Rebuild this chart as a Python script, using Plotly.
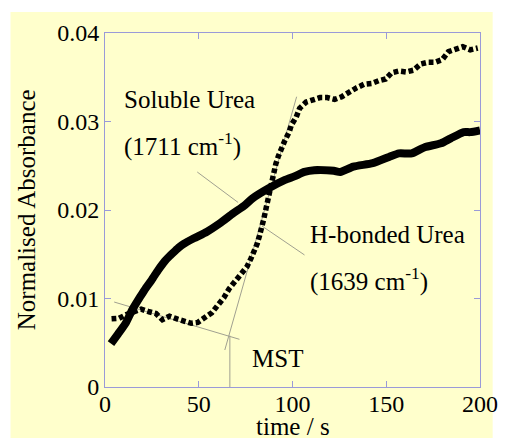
import plotly.graph_objects as go

# H-bonded urea (1639 cm-1), solid thick line
time_hb = [3.2, 7, 11, 14.5, 18.8, 21.8, 24.9, 28.3, 31.8, 34.5, 37, 39.6, 42.2, 47.4,
           54.4, 61.3, 68.2, 74.3, 78.6, 87.3, 96, 101, 106.4, 111.6, 122, 125.5, 132.4,
           142.8, 151.5, 156.7, 163.6, 170.5, 179.2, 184.4, 191.3, 194.8, 200]
abs_hb = [0.0049, 0.0060, 0.0072, 0.0087, 0.0102, 0.0112, 0.0121, 0.0132, 0.0142, 0.0148,
          0.0153, 0.0158, 0.0162, 0.0168, 0.01755, 0.0185, 0.0196, 0.0205, 0.0213, 0.02245,
          0.0234, 0.0238, 0.0243, 0.0245, 0.02444, 0.0243, 0.0249, 0.0253, 0.0260, 0.0264,
          0.0264, 0.0271, 0.02754, 0.0281, 0.0288, 0.0288, 0.0290]

# Soluble urea (1711 cm-1), dotted line
time_sol = [3.5, 7.5, 11.5, 15.3, 19.3, 23.5, 27.2, 30.6, 34.4, 38.4, 42.2, 46.0, 49.5,
            53.5, 57.0, 60.4, 63.4, 66.2, 69.4, 72.6, 75.7, 77.8, 80.0, 81.2, 82.4, 83.8,
            84.7, 85.6, 86.5, 87.3, 88.5, 89.4, 90.4, 91.1, 92.5, 93.9, 96.0, 98.2, 99.4,
            102.0, 103.8, 107.3, 110.7, 114.7, 118.5, 122.5, 126.3, 130.3, 134.1, 138.1,
            142.3, 145.9, 149.7, 152.8, 156.7, 160.5, 164.5, 168.4, 172.3, 176.2, 179.9,
            183.2, 187.0, 190.8, 194.8, 198.8]
abs_sol = [0.0077, 0.00776, 0.0082, 0.0085, 0.0088, 0.0085, 0.0083, 0.0076, 0.0080, 0.0077,
           0.00746, 0.0072, 0.0073, 0.0079, 0.0084, 0.0093, 0.0101, 0.0111, 0.0119, 0.0127,
           0.0136, 0.0145, 0.0154, 0.0162, 0.0171, 0.0180, 0.0190, 0.0199, 0.0208, 0.0217,
           0.0225, 0.0234, 0.0243, 0.0252, 0.0261, 0.0270, 0.0279, 0.0288, 0.0296, 0.0305,
           0.0315, 0.0322, 0.0325, 0.0327, 0.0327, 0.0325, 0.0328, 0.0334, 0.0338, 0.0342,
           0.0343, 0.0346, 0.0348, 0.0355, 0.0357, 0.0356, 0.0358, 0.0365, 0.0367, 0.0367,
           0.0370, 0.0379, 0.0382, 0.03845, 0.0381, 0.0383]

# thin guide / tangent lines (endpoints in data units)
guide_lines = [
    ([49.2, 71.0], [0.02429, 0.02085]),    # label pointer, soluble urea
    ([83.7, 106.4], [0.01819, 0.01492]),   # label pointer, H-bonded urea
    ([4.9, 71.7], [0.0096, 0.00539]),      # tangent on flat part
    ([63.9, 102.2], [0.00418, 0.0328]),    # tangent on steep part
    ([66.6, 66.6], [0.0, 0.0058]),         # MST drop line
]

x_ticks = [0, 50, 100, 150, 200]
y_ticks = [0, 0.01, 0.02, 0.03, 0.04]
y_ticktext = ["0", "0.01", "0.02", "0.03", "0.04"]

labels = [
    (9.1, 0.0325, "Soluble Urea"),
    (9.1, 0.0274, "(1711 cm<sup>-1</sup>)"),
    (108.3, 0.0172, "H-bonded Urea"),
    (108.3, 0.0121, "(1639 cm<sup>-1</sup>)"),
    (77.1, 0.0032, "MST"),
]

FONT = "Liberation Serif, Times New Roman, serif"
GUIDE = "#a0a090"
FRAME = "#9a9ad8"

fig = go.Figure()
for gx, gy in guide_lines:
    fig.add_trace(go.Scatter(x=gx, y=gy, mode="lines",
                             line=dict(color=GUIDE, width=1), hoverinfo="skip"))
fig.add_trace(go.Scatter(x=time_hb, y=abs_hb, mode="lines",
                         line=dict(color="black", width=8, shape="spline", smoothing=0.6)))
fig.add_trace(go.Scatter(x=time_sol, y=abs_sol, mode="lines",
                         line=dict(color="black", width=5.5, dash="4.8px,2.8px")))

for lx, ly, txt in labels:
    fig.add_annotation(x=lx, y=ly, xref="x", yref="y", text=txt, showarrow=False,
                       xanchor="left", yanchor="middle",
                       font=dict(family=FONT, size=25, color="black"))

fig.add_annotation(x=0.5, y=-0.112, xref="paper", yref="paper", text="time / s",
                   showarrow=False, xanchor="center", yanchor="middle",
                   font=dict(family=FONT, size=25, color="black"))
fig.add_annotation(x=-0.21, y=0.5, xref="paper", yref="paper", text="Normalised Absorbance",
                   showarrow=False, xanchor="center", yanchor="middle", textangle=-90,
                   font=dict(family=FONT, size=25, color="black"))

# cream panel behind everything
fig.add_shape(type="rect", xref="paper", yref="paper", layer="below",
              x0=(8 - 105) / 385, x1=(503 - 105) / 385,
              y0=(387 - 438) / 354, y1=(387 - 12) / 354,
              fillcolor="#FFFFCC", line=dict(width=0))

fig.update_layout(
    width=510, height=439,
    margin=dict(l=105, r=20, t=33, b=52),
    paper_bgcolor="white", plot_bgcolor="#FFFFCC",
    showlegend=False,
    font=dict(family=FONT, size=24, color="black"),
)
fig.update_xaxes(range=[0, 200], tickvals=x_ticks, ticks="inside", ticklen=6,
                 tickcolor=FRAME, showline=True, linecolor=FRAME, linewidth=1,
                 mirror="allticks", showgrid=False, zeroline=False,
                 ticklabelstandoff=-5,
                 tickfont=dict(family=FONT, size=24, color="black"))
fig.update_yaxes(range=[0, 0.04], tickvals=y_ticks, ticktext=y_ticktext, ticks="inside",
                 ticklen=6, tickcolor=FRAME, showline=True, linecolor=FRAME, linewidth=1,
                 mirror="allticks", showgrid=False, zeroline=False,
                 tickfont=dict(family=FONT, size=24, color="black"))

fig.write_html("out.html")
